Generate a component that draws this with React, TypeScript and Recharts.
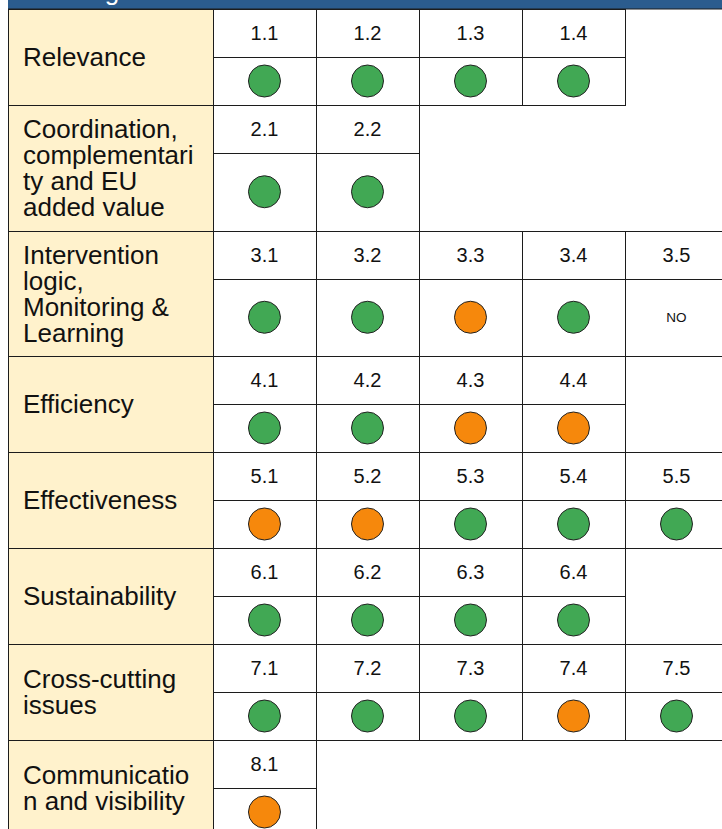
import { ScatterChart, Scatter, XAxis, YAxis, ReferenceArea, ReferenceLine } from 'recharts';

// Criteria, as wrapped in the original table
const criteriaLines: string[][] = [
  ['Relevance'],
  ['Coordination,', 'complementari', 'ty and EU', 'added value'],
  ['Intervention', 'logic,', 'Monitoring &', 'Learning'],
  ['Efficiency'],
  ['Effectiveness'],
  ['Sustainability'],
  ['Cross-cutting', 'issues'],
  ['Communicatio', 'n and visibility'],
];

const subCriteria: string[][] = [
  ['1.1', '1.2', '1.3', '1.4'],
  ['2.1', '2.2'],
  ['3.1', '3.2', '3.3', '3.4', '3.5'],
  ['4.1', '4.2', '4.3', '4.4'],
  ['5.1', '5.2', '5.3', '5.4', '5.5'],
  ['6.1', '6.2', '6.3', '6.4'],
  ['7.1', '7.2', '7.3', '7.4', '7.5'],
  ['8.1'],
];

// G = green, O = orange, NO = not rated
const ratings: string[][] = [
  ['G', 'G', 'G', 'G'],
  ['G', 'G'],
  ['G', 'G', 'O', 'G', 'NO'],
  ['G', 'G', 'O', 'O'],
  ['O', 'O', 'G', 'G', 'G'],
  ['G', 'G', 'G', 'G'],
  ['G', 'G', 'G', 'O', 'G'],
  ['O'],
];

const title = 'Rating';

// layout
const CHART_W = 720;
const CHART_H = 836;
const LABEL_UNITS = 1.99;
const X_MAX = LABEL_UNITS + 5;
const COL_PX = CHART_W / X_MAX;
const HEADER_H = 9;
const NUM_H = 48;
const STATUS_H = [48, 77.5, 77.5, 48, 48, 48, 48, 48];
const LINE_H = 26;

const FONT = '"Liberation Sans", Arial, sans-serif';
const INK = '#111';
const GRID = '#1c1c1c';
const BEIGE = '#FFF2CC';
const BLUE = '#2B5C8E';
const COLORS: Record<string, string> = { G: '#41A854', O: '#F6880C' };

type LabelPt = { x: number; y: number; h: number; lines: string[] };
type NumPt = { x: number; y: number; code: string };
type StatusPt = { x: number; y: number; h: number; rating: string };

const labelPts: LabelPt[] = [];
const numberPts: NumPt[] = [];
const statusPts: StatusPt[] = [];

let top = HEADER_H;
criteriaLines.forEach((lines, g) => {
  const h = NUM_H + STATUS_H[g];
  labelPts.push({ x: LABEL_UNITS / 2, y: top + h / 2, h, lines });
  subCriteria[g].forEach((code, i) => {
    const x = LABEL_UNITS + i + 0.5;
    numberPts.push({ x, y: top + NUM_H / 2, code });
    statusPts.push({ x, y: top + NUM_H + STATUS_H[g] / 2, h: STATUS_H[g], rating: ratings[g][i] });
  });
  top += h;
});

function box(cx: number, cy: number, w: number, h: number) {
  const x0 = Math.round(cx - w / 2);
  const x1 = Math.round(cx + w / 2);
  const y0 = Math.round(cy - h / 2);
  const y1 = Math.round(cy + h / 2);
  return { x: x0 + 0.5, y: y0 + 0.5, width: x1 - x0, height: y1 - y0 };
}

function LabelCell(props: any) {
  const { cx, cy, payload } = props;
  const b = box(cx, cy, LABEL_UNITS * COL_PX, payload.h);
  const n = payload.lines.length;
  return (
    <g>
      <rect {...b} fill={BEIGE} stroke={GRID} />
      {payload.lines.map((l: string, i: number) => (
        <text key={i} x={15} y={cy + (i - (n - 1) / 2) * LINE_H + 9.3}
          fontSize={26} fontFamily={FONT} fill={INK}>{l}</text>
      ))}
    </g>
  );
}

function NumberCell(props: any) {
  const { cx, cy, payload } = props;
  const b = box(cx, cy, COL_PX, NUM_H);
  return (
    <g>
      <rect {...b} fill="#fff" stroke={GRID} />
      <text x={cx} y={cy + 7.2} textAnchor="middle" fontSize={20} fontFamily={FONT} fill={INK}>
        {payload.code}
      </text>
    </g>
  );
}

function StatusCell(props: any) {
  const { cx, cy, payload } = props;
  const b = box(cx, cy, COL_PX, payload.h);
  const color = COLORS[payload.rating];
  return (
    <g>
      <rect {...b} fill="#fff" stroke={GRID} />
      {color ? (
        <circle cx={cx} cy={cy} r={16} fill={color} stroke="#222" strokeWidth={1} />
      ) : (
        <text x={cx} y={cy + 4.8} textAnchor="middle" fontSize={13.5} fontFamily={FONT} fill={INK}>
          {payload.rating}
        </text>
      )}
    </g>
  );
}

function HeaderTitle(props: any) {
  const vb = props.viewBox || { x: 0, y: 0 };
  return (
    <text x={vb.x + 36} y={vb.y - 0.5} fontSize={26} fontFamily={FONT} fill="#fff">{title}</text>
  );
}

export default function App() {
  return (
    <div style={{ position: 'fixed', top: 0, left: 8, width: 714, height: 829, overflow: 'hidden', background: '#fff' }}>
      <ScatterChart width={CHART_W} height={CHART_H} margin={{ top: 0, right: 0, bottom: 0, left: 0 }}>
        <XAxis type="number" dataKey="x" domain={[0, X_MAX]} allowDataOverflow hide />
        <YAxis type="number" dataKey="y" domain={[0, CHART_H]} allowDataOverflow reversed hide />
        <ReferenceArea x1={0} x2={X_MAX} y1={0} y2={HEADER_H} fill={BLUE} fillOpacity={1}
          stroke="none" label={<HeaderTitle />} />
        <ReferenceLine y={HEADER_H} stroke={GRID} strokeWidth={1} />
        <Scatter data={labelPts} shape={<LabelCell />} isAnimationActive={false} />
        <Scatter data={numberPts} shape={<NumberCell />} isAnimationActive={false} />
        <Scatter data={statusPts} shape={<StatusCell />} isAnimationActive={false} />
      </ScatterChart>
    </div>
  );
}
